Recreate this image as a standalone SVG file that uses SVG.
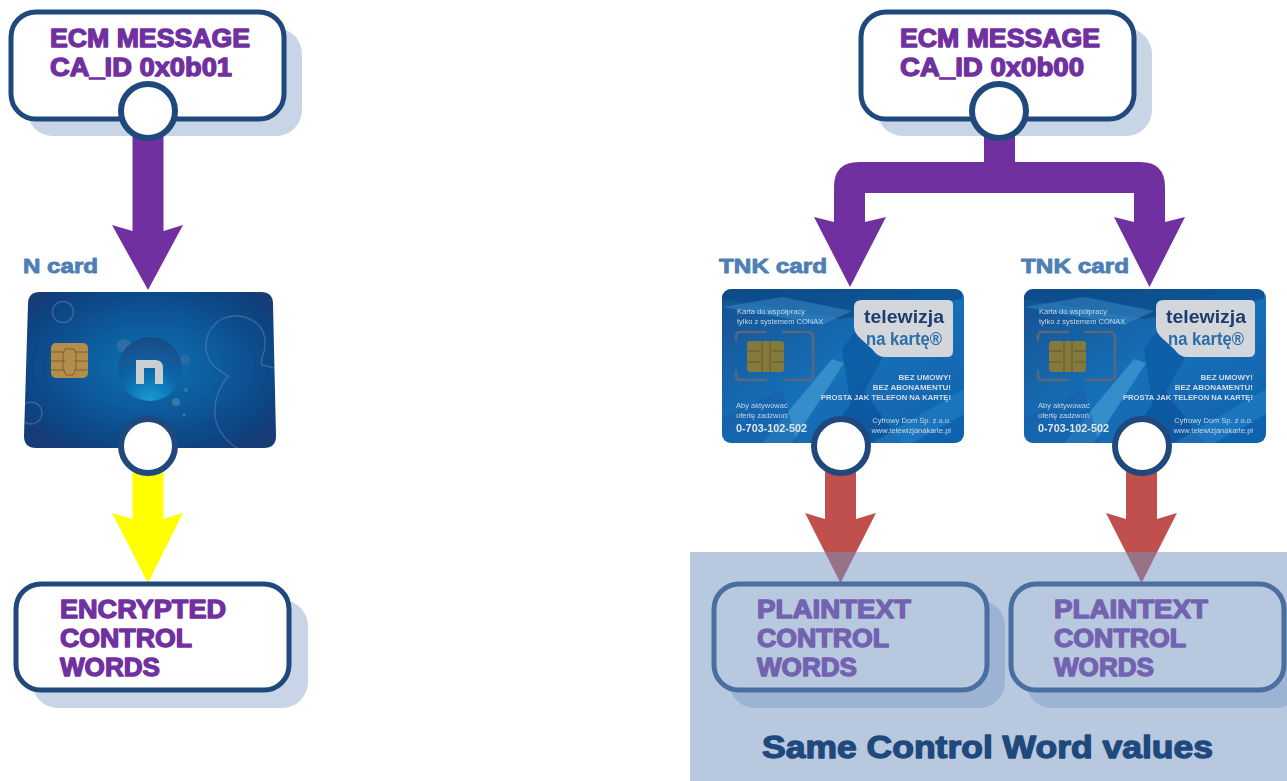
<svg xmlns="http://www.w3.org/2000/svg" width="1287" height="781" viewBox="0 0 1287 781">
<style>
.box{fill:#fff;stroke:#1f497d;stroke-width:5}
.shadow{fill:#c7d5e6}
.ring{fill:#fff;stroke:#1f497d;stroke-width:6}
.t{font-family:"Liberation Sans",Arial,sans-serif;font-weight:700;font-size:25px;fill:#7030a0;stroke:#7030a0;stroke-width:1.3;stroke-linejoin:round}
.lbl{font-family:"Liberation Sans",Arial,sans-serif;font-weight:700;font-size:21px;fill:#4f7fb5;stroke:#4f7fb5;stroke-width:.9;stroke-linejoin:round}
.c{font-family:"Liberation Sans",Arial,sans-serif;fill:#c9d6e4;font-size:7.5px}
.cb{font-family:"Liberation Sans",Arial,sans-serif;fill:#d5dde6;font-size:8px;font-weight:700;text-anchor:end}
.ce{text-anchor:end}
.ph{font-family:"Liberation Sans",Arial,sans-serif;font-weight:700;font-size:11px;fill:#dfe5ec}
.tv{font-family:"Liberation Sans",Arial,sans-serif;font-weight:700;font-size:18px}
.same{font-family:"Liberation Sans",Arial,sans-serif;font-weight:700;font-size:31px;fill:#1f497d;stroke:#1f497d;stroke-width:1.3;stroke-linejoin:round}
.ln{fill:none;stroke:#7da0c8;stroke-opacity:.35;stroke-width:1.4}
.frame{fill:none;stroke:#59687a;stroke-width:2.5;stroke-linecap:round}
</style>
<defs>
<radialGradient id="ng" cx="50%" cy="48%" r="62%"><stop offset="0" stop-color="#0f74b2"/><stop offset=".55" stop-color="#0f5596"/><stop offset="1" stop-color="#123c78"/></radialGradient>
<radialGradient id="ball" cx="50%" cy="100%" r="100%"><stop offset="0" stop-color="#149bd4"/><stop offset=".5" stop-color="#0f66a8"/><stop offset="1" stop-color="#164a86"/></radialGradient>
<linearGradient id="tg" x1="0" y1="0" x2="1" y2="1"><stop offset="0" stop-color="#12508f"/><stop offset=".5" stop-color="#1570b8"/><stop offset="1" stop-color="#0f62ac"/></linearGradient>
<filter id="soft" x="-5%" y="-5%" width="110%" height="110%"><feGaussianBlur stdDeviation=".4"/></filter>
<clipPath id="ncl"><path d="M40 292H261Q273 292 273 304L276 436Q276 448 264 448H36Q24 448 24 436L28 304Q28 292 40 292Z"/></clipPath>
<clipPath id="tcl"><rect x="0" y="0" width="242" height="154" rx="9"/></clipPath>
<g id="tnkart">
<rect x="0" y="0" width="242" height="154" rx="9" fill="url(#tg)"/>
<g clip-path="url(#tcl)">
<path d="M0 10L120 30L240 10V0H0Z" fill="#0f4a88" opacity=".7"/>
<path d="M0 18L100 36L130 22L60 8Z" fill="#3f94d0" opacity=".45"/>
<path d="M40 154L110 70L122 74L70 154Z" fill="#5fb3e0" opacity=".45"/>
<path d="M100 154L140 100L180 154Z" fill="#0d4f96" opacity=".6"/>
<path d="M120 60L150 20L160 70L130 125Z" fill="#0d579f" opacity=".7"/>
<path d="M150 154L242 100V125L190 154Z" fill="#2f8fd2" opacity=".4"/>
<path d="M0 130L60 100L75 154H0Z" fill="#0f5ba6" opacity=".5"/>
</g>
<path d="M140 11H226Q231 11 231 16V62Q231 68 225 68H162Q156 68 150 60L139 50Q132 44 132 38V18Q132 11 140 11Z" fill="#d3d6da"/>
<path class="frame" d="M14 51V47Q14 43 19 43H44M61 43H85Q91 43 91 48V86Q91 91 85 91H62M44 91H19Q14 91 14 87V82"/>
<rect x="25" y="52" width="37" height="31" rx="3" fill="#857a3c"/>
<path d="M25 62H38M25 73H38M50 62H62M50 73H62M40 52V83M48 52V83" stroke="#5f5a2a" stroke-width="1" fill="none"/>
</g>
</defs>

<g id="connectors">
<path fill="#7030a0" d="M132.500 136H163.500V231L183 225L148 290L112 225L132.500 231Z"/>
<path fill="#ffff00" d="M132.500 470H163.500V519L183 513L148 583L112 513L132.500 519Z"/>
<path fill="#7030a0" d="M984 136H1015V162H1140Q1165 162 1165 187V222L1185 217L1149.500 287L1114 217L1134 222V193H865V222L886 217L850 287L814 217L834 222V187Q834 162 859 162H984Z"/>
<path fill="#c0504d" d="M825 470H856V519L876 513L840.500 583L805 513L825 519Z"/>
<path fill="#c0504d" d="M1126 470H1157V519L1177 513L1141.500 583L1106 513L1126 519Z"/>
</g>

<g id="ecm-left">
<rect class="shadow" x="27" y="28" width="275" height="108" rx="26"/>
<rect class="box" x="11" y="12" width="273" height="107" rx="25"/>
<text class="t" x="50" y="47" textLength="200" lengthAdjust="spacingAndGlyphs">ECM MESSAGE</text>
<text class="t" x="50" y="76" textLength="182" lengthAdjust="spacingAndGlyphs">CA_ID 0x0b01</text>
<circle class="ring" cx="148" cy="111" r="27"/>
</g>

<g id="ecm-right">
<rect class="shadow" x="877" y="28" width="275" height="108" rx="26"/>
<rect class="box" x="861" y="12" width="273" height="107" rx="25"/>
<text class="t" x="900" y="47" textLength="200" lengthAdjust="spacingAndGlyphs">ECM MESSAGE</text>
<text class="t" x="900" y="76" textLength="184" lengthAdjust="spacingAndGlyphs">CA_ID 0x0b00</text>
<circle class="ring" cx="999" cy="111" r="27"/>
</g>

<g id="n-card">
<text class="lbl" x="23" y="273" textLength="75" lengthAdjust="spacingAndGlyphs">N card</text>
<g filter="url(#soft)">
<path d="M40 292H261Q273 292 273 304L276 436Q276 448 264 448H36Q24 448 24 436L28 304Q28 292 40 292Z" fill="url(#ng)"/>
<g clip-path="url(#ncl)">
<circle class="ln" cx="63" cy="312" r="10.500"/>
<circle class="ln" cx="31" cy="413" r="11"/>
<path class="ln" d="M274 368L262 365Q260 362 264 352C270 325 250 316 235 316C215 316 204 335 206 350C208 365 222 372 228 376C222 385 214 395 215 415C216 432 230 445 240 449"/>
</g>
<rect x="51" y="343" width="37" height="35" rx="5" fill="#b38d4a"/>
<path d="M51 352H65M51 361H65M51 370H65M74 352H88M74 361H88M74 370H88M65 349H74L76 353V369L73 375H66L63 369V353Z" fill="none" stroke="#7d6030" stroke-width="1"/>
<circle cx="124" cy="346" r="7" fill="#2f6da5"/>
<circle cx="185" cy="360" r="5" fill="#2b6ba5"/>
<circle cx="150" cy="369" r="32" fill="url(#ball)"/>
<path d="M136 384V360H155Q163 360 163 368V384H155V368H144V384Z" fill="#c9ced3"/>
<circle cx="176" cy="402" r="4" fill="#3a76a8"/>
<circle cx="186" cy="390" r="2" fill="#3a76a8"/>
<circle cx="184" cy="415" r="1.500" fill="#3a76a8"/>
</g>
<circle class="ring" cx="148" cy="446" r="27"/>
</g>

<g id="tnk-card-1">
<text class="lbl" x="719" y="273" textLength="108" lengthAdjust="spacingAndGlyphs">TNK card</text>
<g filter="url(#soft)">
<use href="#tnkart" x="722" y="289"/>
<text class="tv" fill="#1f3d6e" x="864" y="323" textLength="80" lengthAdjust="spacingAndGlyphs">telewizja</text>
<text class="tv" fill="#2a6ea8" x="866" y="345" textLength="76" lengthAdjust="spacingAndGlyphs">na kartę®</text>
<text class="c" x="737" y="314">Karta do współpracy</text>
<text class="c" x="737" y="324">tylko z systemem CONAX</text>
<text class="cb" x="951" y="380">BEZ UMOWY!</text>
<text class="cb" x="951" y="390">BEZ ABONAMENTU!</text>
<text class="cb" x="951" y="400" textLength="130" lengthAdjust="spacingAndGlyphs">PROSTA JAK TELEFON NA KARTĘ!</text>
<text class="c" x="736" y="408">Aby aktywować</text>
<text class="c" x="736" y="418">ofertę zadzwoń:</text>
<text class="ph" x="736" y="432" textLength="71" lengthAdjust="spacingAndGlyphs">0-703-102-502</text>
<text class="c ce" x="951" y="423">Cyfrowy Dom Sp. z o.o.</text>
<text class="c ce" x="951" y="433">www.telewizjanakarte.pl</text>
</g>
<circle class="ring" cx="841" cy="446" r="27"/>
</g>

<g id="tnk-card-2">
<text class="lbl" x="1021" y="273" textLength="108" lengthAdjust="spacingAndGlyphs">TNK card</text>
<g filter="url(#soft)">
<use href="#tnkart" x="1024" y="289"/>
<text class="tv" fill="#1f3d6e" x="1166" y="323" textLength="80" lengthAdjust="spacingAndGlyphs">telewizja</text>
<text class="tv" fill="#2a6ea8" x="1168" y="345" textLength="76" lengthAdjust="spacingAndGlyphs">na kartę®</text>
<text class="c" x="1039" y="314">Karta do współpracy</text>
<text class="c" x="1039" y="324">tylko z systemem CONAX</text>
<text class="cb" x="1253" y="380">BEZ UMOWY!</text>
<text class="cb" x="1253" y="390">BEZ ABONAMENTU!</text>
<text class="cb" x="1253" y="400" textLength="130" lengthAdjust="spacingAndGlyphs">PROSTA JAK TELEFON NA KARTĘ!</text>
<text class="c" x="1038" y="408">Aby aktywować</text>
<text class="c" x="1038" y="418">ofertę zadzwoń:</text>
<text class="ph" x="1038" y="432" textLength="71" lengthAdjust="spacingAndGlyphs">0-703-102-502</text>
<text class="c ce" x="1253" y="423">Cyfrowy Dom Sp. z o.o.</text>
<text class="c ce" x="1253" y="433">www.telewizjanakarte.pl</text>
</g>
<circle class="ring" cx="1142" cy="446" r="27"/>
</g>

<g id="cw-encrypted">
<rect class="shadow" x="32" y="600" width="276" height="108" rx="26"/>
<rect class="box" x="16" y="584" width="273" height="106" rx="25"/>
<text class="t" x="60" y="618" textLength="166" lengthAdjust="spacingAndGlyphs">ENCRYPTED</text>
<text class="t" x="60" y="647" textLength="132" lengthAdjust="spacingAndGlyphs">CONTROL</text>
<text class="t" x="60" y="676" textLength="100" lengthAdjust="spacingAndGlyphs">WORDS</text>
</g>

<g id="cw-plain-1">
<rect class="shadow" x="729" y="600" width="276" height="108" rx="26"/>
<rect class="box" x="714" y="584" width="273" height="106" rx="25"/>
<text class="t" x="757" y="618" textLength="154" lengthAdjust="spacingAndGlyphs">PLAINTEXT</text>
<text class="t" x="757" y="647" textLength="132" lengthAdjust="spacingAndGlyphs">CONTROL</text>
<text class="t" x="757" y="676" textLength="100" lengthAdjust="spacingAndGlyphs">WORDS</text>
</g>

<g id="cw-plain-2">
<rect class="shadow" x="1026" y="600" width="276" height="108" rx="26"/>
<rect class="box" x="1011" y="584" width="273" height="106" rx="25"/>
<text class="t" x="1054" y="618" textLength="154" lengthAdjust="spacingAndGlyphs">PLAINTEXT</text>
<text class="t" x="1054" y="647" textLength="132" lengthAdjust="spacingAndGlyphs">CONTROL</text>
<text class="t" x="1054" y="676" textLength="100" lengthAdjust="spacingAndGlyphs">WORDS</text>
</g>

<g id="same-values">
<rect x="690" y="552" width="597" height="229" fill="#7394c0" fill-opacity=".51"/>
<text class="same" x="762" y="758" textLength="451" lengthAdjust="spacingAndGlyphs">Same Control Word values</text>
</g>
</svg>
